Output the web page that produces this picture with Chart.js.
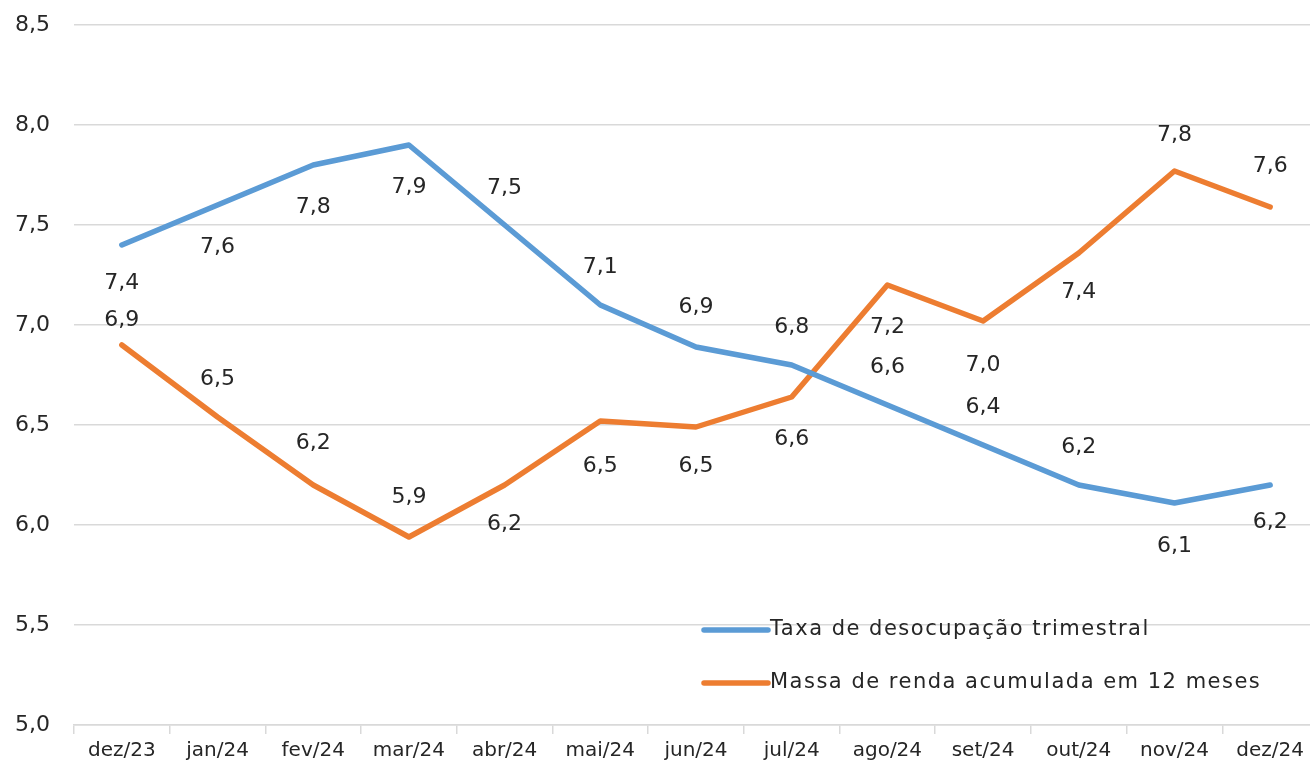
<!DOCTYPE html>
<html>
<head>
<meta charset="utf-8">
<script src="https://cdn.jsdelivr.net/npm/chart.js@4.4.1/dist/chart.umd.min.js"></script>
<style>
  html, body { margin: 0; padding: 0; background: #fff; overflow: hidden; }
  #wrap { width: 1318px; height: 767px; position: relative; }
</style>
</head>
<body>
<div id="wrap"><canvas id="grafico"></canvas></div>
<script>
// dados do grafico
var meses = ["dez/23", "jan/24", "fev/24", "mar/24", "abr/24", "mai/24", "jun/24", "jul/24", "ago/24", "set/24", "out/24", "nov/24", "dez/24"];
var taxaDesocupacao = [7.4, 7.6, 7.8, 7.9, 7.5, 7.1, 6.89, 6.8, 6.6, 6.4, 6.2, 6.11, 6.2];
var massaRenda = [6.9, 6.54, 6.2, 5.94, 6.2, 6.52, 6.49, 6.64, 7.2, 7.02, 7.36, 7.77, 7.59];
var nomesSeries = ["Taxa de desocupação trimestral", "Massa de renda acumulada em 12 meses"];
var eixoY = [5.0, 5.5, 6.0, 6.5, 7.0, 7.5, 8.0, 8.5];

// deslocamento vertical dos rotulos (px, negativo = acima)
var rotuloTaxa = [38, 42, 42, 42, -37, -38, -40, -38, -38, -38, -38, 43, 37];
var rotuloMassa = [-25, -38, -42, -40, 39, 45, 39, 42, 42, 44, 39, -36, -41];

var corAzul = "#5B9BD5";
var corLaranja = "#ED7D31";
var fonte = "'DejaVu Sans', Verdana, sans-serif";

function virgula(v) {
    return v.toFixed(1).replace(".", ",");
}

// rotulos de dados
var pluginRotulos = {
    id: "rotulos",
    afterDatasetsDraw: function (chart) {
        var ctx = chart.ctx;
        var desloc = [rotuloTaxa, rotuloMassa];
        ctx.save();
        ctx.font = "22px " + fonte;
        ctx.fillStyle = "#262626";
        ctx.textAlign = "center";
        ctx.textBaseline = "middle";
        chart.data.datasets.forEach(function (ds, i) {
            var meta = chart.getDatasetMeta(i);
            meta.data.forEach(function (pt, j) {
                ctx.fillText(virgula(ds.data[j]), pt.x, pt.y + desloc[i][j]);
            });
        });
        ctx.restore();
    }
};

// legenda dentro da area do grafico
var pluginLegenda = {
    id: "legendaInterna",
    afterDraw: function (chart) {
        var ctx = chart.ctx;
        var cores = [corAzul, corLaranja];
        var ys = [630, 683];
        ctx.save();
        ctx.font = "21px " + fonte;
        ctx.letterSpacing = "1.5px";
        ctx.textBaseline = "middle";
        ctx.textAlign = "left";
        nomesSeries.forEach(function (nome, i) {
            ctx.strokeStyle = cores[i];
            ctx.lineWidth = 5.5;
            ctx.lineCap = "round";
            ctx.beginPath();
            ctx.moveTo(704, ys[i]);
            ctx.lineTo(768, ys[i]);
            ctx.stroke();
            ctx.fillStyle = "#262626";
            ctx.fillText(nome, 770, ys[i]);
        });
        ctx.restore();
    }
};

var ctx = document.getElementById("grafico").getContext("2d");
var grafico = new Chart(ctx, {
    type: "line",
    data: {
        labels: meses,
        datasets: [
            {
                label: nomesSeries[0],
                data: taxaDesocupacao,
                borderColor: corAzul,
                backgroundColor: corAzul,
                borderWidth: 5.5,
                pointRadius: 0,
                borderCapStyle: "round",
                borderJoinStyle: "round",
                tension: 0
            },
            {
                label: nomesSeries[1],
                data: massaRenda,
                borderColor: corLaranja,
                backgroundColor: corLaranja,
                borderWidth: 5.5,
                pointRadius: 0,
                borderCapStyle: "round",
                borderJoinStyle: "round",
                tension: 0
            }
        ]
    },
    options: {
        responsive: true,
        maintainAspectRatio: false,
        animation: false,
        layout: { padding: { top: 25, left: 0, right: 0, bottom: 0 } },
        plugins: {
            legend: { display: false },
            tooltip: { enabled: false }
        },
        scales: {
            x: {
                offset: true,
                grid: {
                    offset: true,
                    drawOnChartArea: false,
                    drawTicks: true,
                    tickLength: 9,
                    color: "#d9d9d9",
                    lineWidth: 1.5
                },
                border: { display: true, color: "#d9d9d9", width: 1.5 },
                ticks: {
                    color: "#262626",
                    font: { size: 20, family: fonte },
                    padding: 5,
                    maxRotation: 0,
                    autoSkip: false
                },
                afterFit: function (scale) { scale.height = 42; }
            },
            y: {
                min: eixoY[0],
                max: eixoY[eixoY.length - 1],
                afterBuildTicks: function (scale) {
                    scale.ticks = eixoY.map(function (v) { return { value: v }; });
                },
                grid: {
                    color: "#d9d9d9",
                    lineWidth: 1.5,
                    drawTicks: true,
                    tickLength: 22,
                    tickColor: "rgba(0,0,0,0)"
                },
                border: { display: false },
                ticks: {
                    color: "#262626",
                    font: { size: 22, family: fonte },
                    padding: 2,
                    callback: function (v) { return virgula(v); }
                },
                afterFit: function (scale) { scale.width = 74; }
            }
        }
    },
    plugins: [pluginRotulos, pluginLegenda]
});
</script>
</body>
</html>
